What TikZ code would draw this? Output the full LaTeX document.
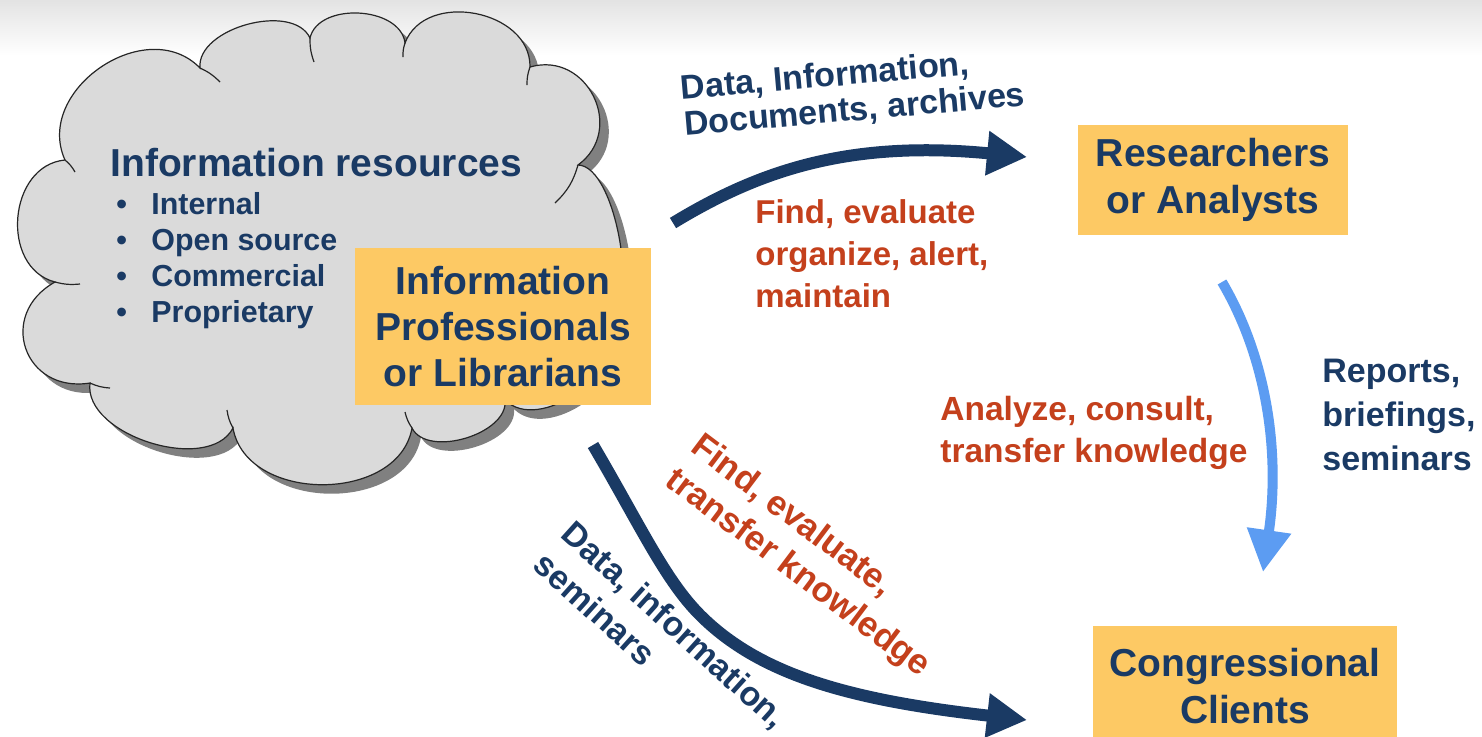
\documentclass[tikz,border=0pt]{standalone}
\usepackage{fontspec}
\setmainfont{Liberation Sans}
\usetikzlibrary{arrows.meta}
\definecolor{navy}{HTML}{1A3A64}
\definecolor{rust}{HTML}{C4401C}
\definecolor{sky}{HTML}{5C9CF2}
\definecolor{boxfill}{HTML}{FDC964}
\definecolor{cloudfill}{HTML}{DADADA}
\definecolor{cloudshade}{HTML}{808080}
\newcommand\fzBox{\fontsize{19.5pt}{23pt}\selectfont}
\newcommand\fzBoxB{\fontsize{19.5pt}{23.5pt}\selectfont}
\newcommand\fzItem{\fontsize{15.2pt}{18pt}\selectfont}
\newcommand\fzTop{\fontsize{17pt}{18pt}\selectfont}
\newcommand\fzRed{\fontsize{16.5pt}{21pt}\selectfont}
\newcommand\fzRot{\fontsize{17.5pt}{21pt}\selectfont}
\newcommand\fzRotB{\fontsize{17pt}{21pt}\selectfont}
\newcommand\fzAn{\fontsize{16.75pt}{21pt}\selectfont}
\newcommand\fzRep{\fontsize{17pt}{22pt}\selectfont}
\begin{document}
\begin{tikzpicture}[x=0.5pt,y=-0.5pt,
  cbody/.style={fill=cloudfill, draw=black!85, line width=0.6pt},
  cshadow/.style={fill=cloudshade},
  cusp/.style={draw=black!85, line width=0.6pt},
  orangebox/.style={fill=boxfill, draw=none, text=navy, font=\fzBox\bfseries, align=center, inner sep=0pt},
  item/.style={anchor=base west, text=navy, font=\fzItem\bfseries, inner sep=0pt},
  lbl/.style={align=left, inner sep=0pt},
  darkflow/.style={line width=6pt, draw=navy, -{Triangle[length=20pt,width=21pt]}},
  lightflow/.style={line width=5pt, draw=sky, -{Triangle[length=21pt,width=21pt]}}]
\useasboundingbox (0,0) rectangle (1482,736);
\fill[white] (0,0) rectangle (1482,736);
\shade[top color=gray!22, bottom color=white] (0,0) rectangle (1482,55);

% cloud with shadow
\foreach \dx/\dy/\sty in {9/9/cshadow,0/0/cbody}{
  \path[\sty, shift={(\dx,\dy)}]
    (65,160) to[bend left=80, looseness=1.2] (200,68)
    to[bend left=80, looseness=0.9] (310,38)
    to[bend left=80, looseness=1.0] (405,43)
    to[bend left=80, looseness=1.15] (530,67)
    to[bend left=80, looseness=1.4] (578,165)
    to[bend left=80, looseness=0.6] (605,330)
    to[bend left=80, looseness=1.0] (505,400)
    to[bend left=80, looseness=0.9] (412,428)
    to[bend left=80, looseness=1.1] (233,428)
    to[bend left=80, looseness=0.9] (90,383)
    to[bend left=80, looseness=1.6] (55,282)
    to[bend left=80, looseness=1.2] (65,160) -- cycle;
}
\draw[cusp] (65,160) to[bend left=10] (75,172);
\draw[cusp] (200,68) to[bend left=10] (220,82);
\draw[cusp] (310,38) to[bend right=10] (314,62);
\draw[cusp] (405,43) to[bend right=10] (403,57);
\draw[cusp] (530,67) to[bend right=10] (527,85);
\draw[cusp] (578,165) to[bend left=15] (555,203);
\draw[cusp] (412,428) to[bend left=10] (405,412);
\draw[cusp] (233,428) to[bend left=10] (227,410);
\draw[cusp] (90,383) to[bend right=10] (110,388);
\draw[cusp] (55,282) to[bend right=10] (80,284);

% cloud text
\node[anchor=base west, text=navy, font=\fzBox\bfseries, inner sep=0pt] (restitle) at (110,176) {Information resources};
\node[item] (d1) at (116,214) {•};
\node[item] (i1) at (151,214) {Internal};
\node[item] (d2) at (116,250) {•};
\node[item] (i2) at (151,250) {Open source};
\node[item] (d3) at (116,286) {•};
\node[item] (i3) at (151,286) {Commercial};
\node[item] (d4) at (116,322) {•};
\node[item] (i4) at (151,322) {Proprietary};

% boxes
\node[orangebox, minimum width=148pt, minimum height=78.5pt] (ip) at (503,326.5) {Information\\Professionals\\or Librarians};
\node[orangebox, font=\fzBoxB\bfseries, minimum width=135pt, minimum height=55pt] (ra) at (1213,180) {Researchers\\or Analysts};
\node[orangebox, font=\fzBoxB\bfseries, minimum width=152pt, minimum height=60pt] (cc) at (1245,686) {Congressional\\Clients};

% arrows
\coordinate (t1) at (673,223);
\coordinate (t2) at (1027,157);
\draw[darkflow] (t1) .. controls (760,170) and (850,140) .. (t2);
\coordinate (l1) at (593,445);
\coordinate (lm) at (700,615);
\coordinate (l2) at (1027,720);
\draw[darkflow] (l1) .. controls (640,525) and (665,580) .. (lm) .. controls (760,675) and (850,700) .. (l2);
\coordinate (s1) at (1222,282);
\coordinate (s2) at (1263,572);
\draw[lightflow] (s1) .. controls (1268,360) and (1280,455) .. (s2);

% labels
\node[lbl, text=navy, font=\fzTop\bfseries, rotate=5] (toplbl) at (853,93) {Data, Information,\\Documents, archives};
\node[lbl, text=rust, font=\fzRed\bfseries, anchor=west] (redtop) at (755,254) {Find, evaluate\\organize, alert,\\maintain};
\node[lbl, text=rust, font=\fzRot\bfseries, rotate=-37] (redrot) at (810,557) {Find, evaluate,\\transfer knowledge};
\node[lbl, text=navy, font=\fzRotB\bfseries, rotate=-42] (bluerot) at (661,640) {Data, information,\\seminars};
\node[lbl, text=rust, font=\fzAn\bfseries, anchor=west] (analyze) at (940,433) {Analyze, consult,\\transfer knowledge};
\node[lbl, text=navy, font=\fzRep\bfseries, anchor=west] (reports) at (1322,415) {Reports,\\briefings,\\seminars};
\end{tikzpicture}
\end{document}
